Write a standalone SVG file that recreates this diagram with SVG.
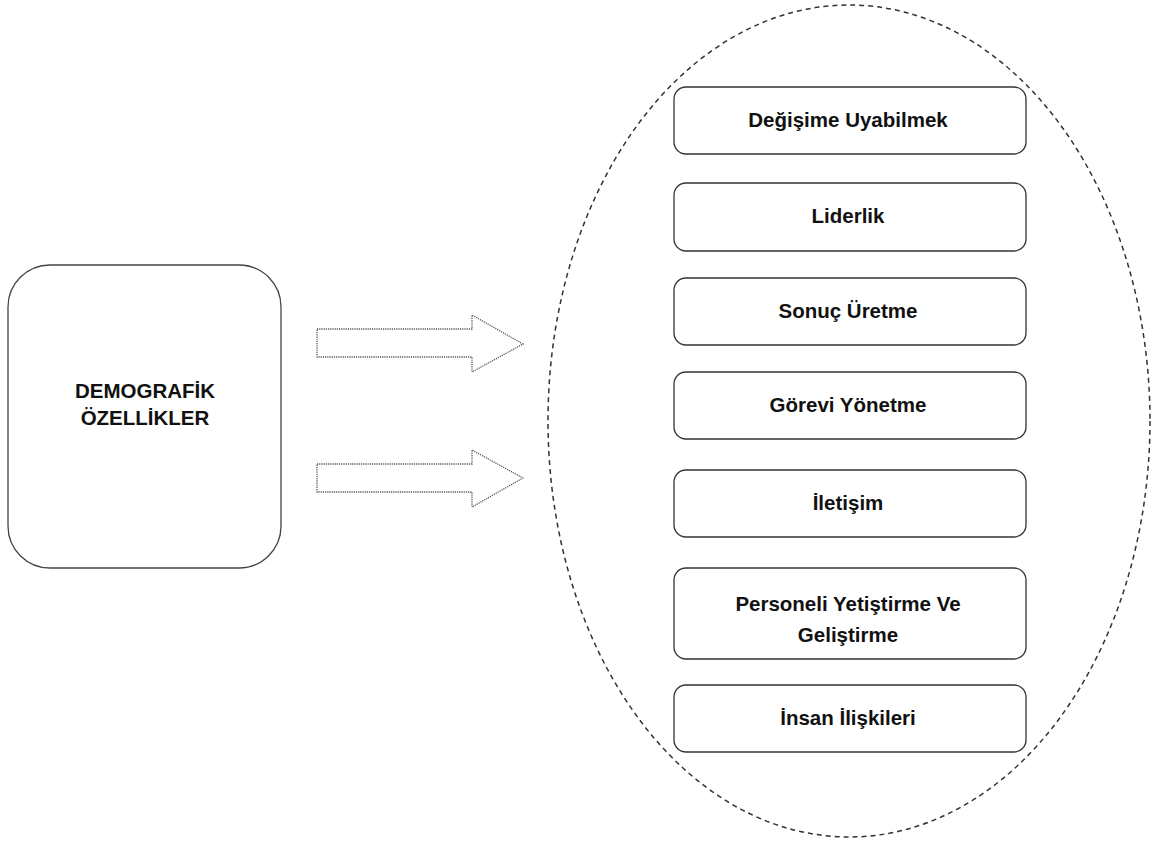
<svg xmlns="http://www.w3.org/2000/svg" width="1161" height="843" viewBox="0 0 1161 843">
<style>
.box{fill:#fff;stroke:#333;stroke-width:1.3}
.lbl{font-family:"Liberation Sans",Arial,sans-serif;font-weight:bold;font-size:20.5px;fill:#111;text-anchor:middle}
.arr{fill:#fff;stroke:#555;stroke-width:1.3;stroke-dasharray:1.2 1}
</style>
<rect width="1161" height="843" fill="#fff"/>
<g id="group-ellipse">
<ellipse cx="849" cy="421" rx="301" ry="416" fill="none" stroke="#333" stroke-width="1.5" stroke-dasharray="5 4"/>
</g>
<g id="node-demografik">
<rect class="box" x="8" y="265" width="273" height="303" rx="42" ry="42" style="stroke:#444"/>
<text class="lbl" x="145" y="398">DEMOGRAFİK</text>
<text class="lbl" x="145" y="425">ÖZELLİKLER</text>
</g>
<g id="connectors">
<path class="arr" d="M317,329 L472,329 L472,315 L523,344 L472,372 L472,357 L317,357 Z"/>
<path class="arr" d="M317,464 L472,464 L472,450 L523,478 L472,507 L472,492 L317,492 Z"/>
</g>
<g id="node-1">
<rect class="box" x="674" y="87" width="352" height="67" rx="12" ry="12"/>
<text class="lbl" x="848" y="127">Değişime Uyabilmek</text>
</g>
<g id="node-2">
<rect class="box" x="674" y="183" width="352" height="68" rx="12" ry="12"/>
<text class="lbl" x="848" y="223">Liderlik</text>
</g>
<g id="node-3">
<rect class="box" x="674" y="278" width="352" height="67" rx="12" ry="12"/>
<text class="lbl" x="848" y="318">Sonuç Üretme</text>
</g>
<g id="node-4">
<rect class="box" x="674" y="372" width="352" height="67" rx="12" ry="12"/>
<text class="lbl" x="848" y="412">Görevi Yönetme</text>
</g>
<g id="node-5">
<rect class="box" x="674" y="470" width="352" height="67" rx="12" ry="12"/>
<text class="lbl" x="848" y="510">İletişim</text>
</g>
<g id="node-6">
<rect class="box" x="674" y="568" width="352" height="91" rx="12" ry="12"/>
<text class="lbl" x="848" y="611">Personeli Yetiştirme Ve</text>
<text class="lbl" x="848" y="642">Geliştirme</text>
</g>
<g id="node-7">
<rect class="box" x="674" y="685" width="352" height="67" rx="12" ry="12"/>
<text class="lbl" x="848" y="725">İnsan İlişkileri</text>
</g>
</svg>
